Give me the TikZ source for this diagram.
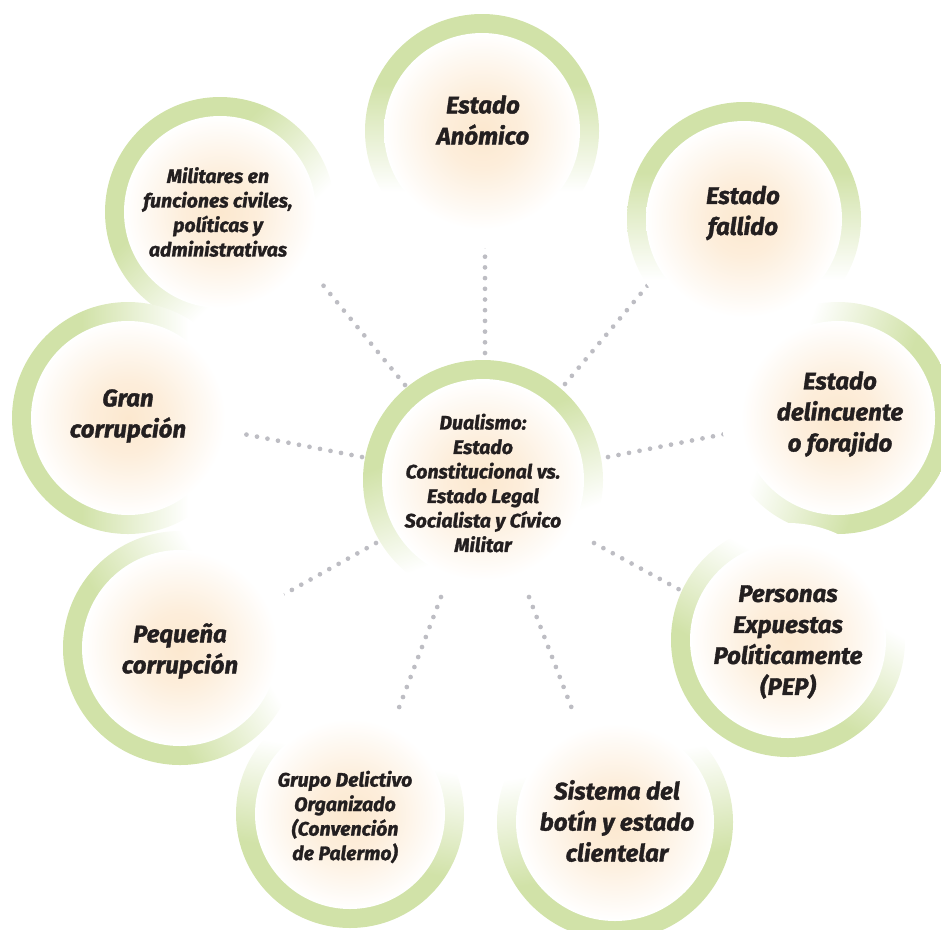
\documentclass[tikz,border=0pt]{standalone}
\usepackage{fontspec}
\setmainfont{Fira Sans}[BoldItalicFeatures={FakeBold=1.4}]
\definecolor{ringgreen}{HTML}{D1E2A8}
\definecolor{peach}{HTML}{FCE8CF}
\definecolor{dotgray}{HTML}{BDBDC3}
\definecolor{ink}{HTML}{231F20}
% ring: solid green on one side, fading to white on the other
\pgfdeclareverticalshading{ringfade}{100bp}{color(0bp)=(white); color(37bp)=(white); color(60bp)=(ringgreen); color(100bp)=(ringgreen)}
% warm glow inside each bubble
\pgfdeclareradialshading{peachglow}{\pgfpoint{0bp}{0bp}}{color(0bp)=(peach); color(8bp)=(peach!75!white); color(21bp)=(white); color(25bp)=(white); color(50bp)=(white)}
\tikzset{
  bubble/.style n args={3}{circle, minimum size=#2, inner sep=0pt, shade, shading=ringfade, shading angle=#1,
    path picture={\shade[shading=peachglow] (path picture bounding box.center) circle[radius=#3];}},
  bigtext/.style={align=center, text=ink, font=\fontsize{24}{31}\selectfont\bfseries\itshape},
  smalltext/.style={align=center, text=ink, font=\fontsize{19.5}{24.5}\selectfont\bfseries\itshape},
  dots/.style={dotgray, line width=4.7pt, line cap=round, dash pattern=on 0pt off 10.7pt},
}
\begin{document}
\begin{tikzpicture}[x=1pt,y=-1pt]
\useasboundingbox (0,0) rectangle (941,929);
\clip (0,0) rectangle (941,929);

% dotted spokes
\coordinate (s1) at (485,353); \coordinate (t1) at (485,236);
\coordinate (s2) at (565,384); \coordinate (t2) at (648,285);
\coordinate (s3) at (405,385); \coordinate (t3) at (318,279);
\coordinate (s4) at (362,457); \coordinate (t4) at (228,431);
\coordinate (s5) at (376,543); \coordinate (t5) at (272,601);
\coordinate (s6) at (608,457); \coordinate (t6) at (735,432);
\coordinate (s7) at (594,543); \coordinate (t7) at (682,591);
\coordinate (s8) at (441,597); \coordinate (t8) at (392,726);
\coordinate (s9) at (529,597); \coordinate (t9) at (579,727);
\foreach \i in {1,...,9} \draw[dots] (s\i) -- (t\i);

% outer bubbles
\node[bubble={0}{234pt}{98pt}]    (anomico)   at (482,131) {};
\node[bubble={0}{234pt}{98pt}]    (fallido)   at (744,219) {};
\node[bubble={-110}{232pt}{97pt}] (delinc)    at (838,418) {};
\node[bubble={150}{234pt}{98pt}]  (pep)       at (788,640) {};
\node[bubble={190}{236pt}{99pt}]  (sistema)   at (615,822) {};
\node[bubble={170}{228pt}{95pt}]  (grupo)     at (350,814) {};
\node[bubble={120}{234pt}{98pt}]  (pequena)   at (180,648) {};
\node[bubble={45}{230pt}{96pt}]   (militares) at (220,212) {};
\node[bubble={90}{232pt}{97pt}]   (gran)      at (128,418) {};
% central bubble
\node[bubble={20}{240pt}{101pt}]  (centro)    at (483,480) {};

% labels
\node[bigtext]   (anomico-t)   at (483,120) {Estado\\Anómico};
\node[bigtext]   (fallido-t)   at (743,213) {Estado\\fallido};
\node[bigtext]   (delinc-t)    at (840,414) {Estado\\delincuente\\o forajido};
\node[bigtext]   (pep-t)       at (788,642) {Personas\\Expuestas\\Políticamente\\(PEP)};
\node[bigtext]   (sistema-t)   at (617,821) {Sistema del\\botín y estado\\clientelar};
\node[smalltext] (grupo-t)     at (345,817) {Grupo Delictivo\\Organizado\\(Convención\\de Palermo)};
\node[bigtext]   (pequena-t)   at (180,651) {Pequeña\\corrupción};
\node[bigtext]   (gran-t)      at (128,416) {Gran\\corrupción};
\node[smalltext] (militares-t) at (218,212) {Militares en\\funciones civiles,\\políticas y\\administrativas};
\node[smalltext] (centro-t)    at (483,483) {Dualismo:\\Estado\\Constitucional vs.\\Estado Legal\\Socialista y Cívico\\Militar};
\end{tikzpicture}
\end{document}
